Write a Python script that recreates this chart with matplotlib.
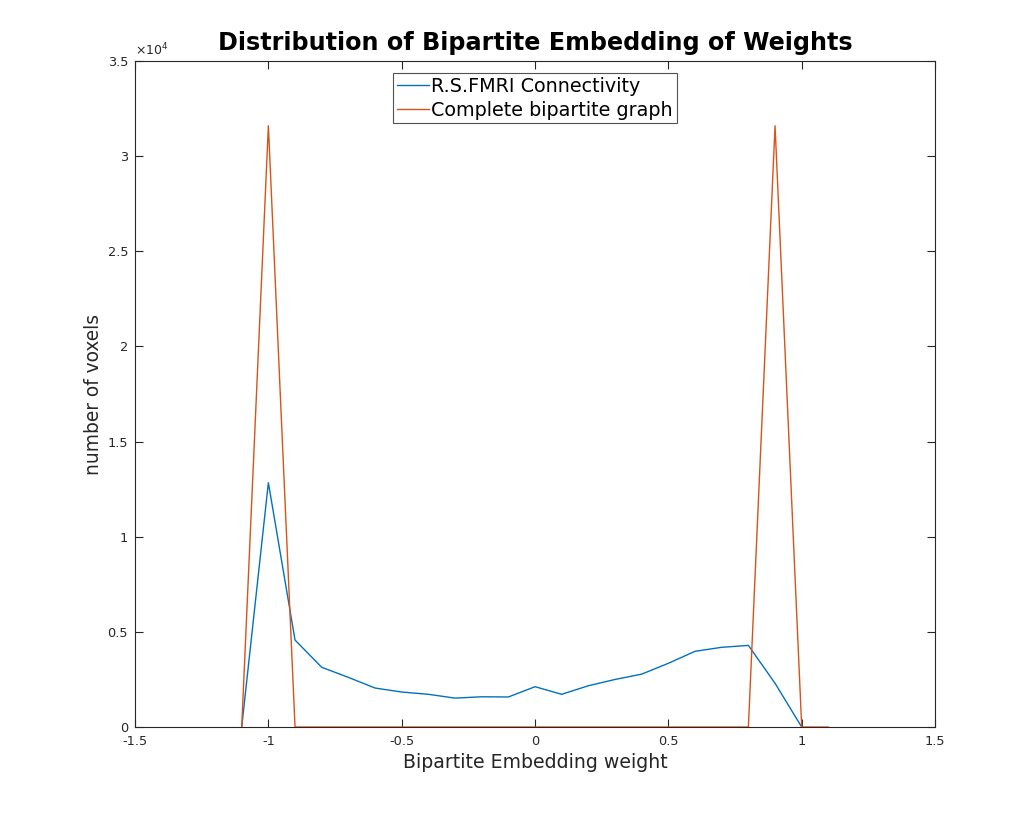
import matplotlib
matplotlib.use("Agg")
import matplotlib.pyplot as plt
import numpy as np

blue_x = [-1.1, -1.0, -0.9, -0.8, -0.7, -0.6, -0.5, -0.4, -0.3, -0.2, -0.1, 0.0,
          0.1, 0.2, 0.3, 0.4, 0.5, 0.6, 0.7, 0.8, 0.9, 1.0]
blue_y = [0, 12840, 4570, 3140, 2610, 2050, 1840, 1720, 1520, 1590, 1580, 2120,
          1720, 2170, 2500, 2780, 3350, 3980, 4190, 4290, 2300, 0]
orange_x = [-1.1, -1.0, -0.9, -0.8, -0.7, -0.6, -0.5, -0.4, -0.3, -0.2, -0.1, 0.0,
            0.1, 0.2, 0.3, 0.4, 0.5, 0.6, 0.7, 0.8, 0.9, 1.0, 1.1]
orange_y = [0, 31600, 0, 0, 0, 0, 0, 0, 0, 0, 0, 0,
            0, 0, 0, 0, 0, 0, 0, 0, 31600, 0, 0]
xticks = [-1.5, -1, -0.5, 0, 0.5, 1, 1.5]
xticklabels = ["-1.5", "-1", "-0.5", "0", "0.5", "1", "1.5"]
yticks = [0, 5000, 10000, 15000, 20000, 25000, 30000, 35000]
yticklabels = ["0", "0.5", "1", "1.5", "2", "2.5", "3", "3.5"]

fig = plt.figure(figsize=(10.34, 8.18), dpi=100)
ax = fig.add_axes([0.1306, 0.1112, 0.9043 - 0.1306, 0.9254 - 0.1112])
ax.plot(blue_x, blue_y, color="#0072BD", lw=1.0, label="R.S.FMRI Connectivity")
ax.plot(orange_x, orange_y, color="#D95319", lw=1.0, label="Complete bipartite graph")
ax.set_xlim(-1.5, 1.5)
ax.set_ylim(0, 35000)
ax.set_xticks(xticks)
ax.set_xticklabels(xticklabels)
ax.set_yticks(yticks)
ax.set_yticklabels(yticklabels)
ax.tick_params(direction="in", top=True, right=True, labelsize=9.3, colors="#262626",
               length=6, width=0.8)
ax.tick_params(axis="x", pad=6)
ax.tick_params(axis="y", pad=5)
for s in ax.spines.values():
    s.set_linewidth(0.8)
    s.set_color("#262626")
ax.text(0.0, 1.004, r"$\times10^{4}$", transform=ax.transAxes, fontsize=9,
        color="#262626", ha="left", va="bottom")
ax.set_xlabel("Bipartite Embedding weight", fontsize=13.6, color="#262626", labelpad=3)
ax.set_ylabel("number of voxels", fontsize=13.4, color="#262626", labelpad=3.5)
ax.set_title("Distribution of Bipartite Embedding of Weights", fontsize=17.2,
             fontweight="bold", pad=8)
leg = ax.legend(loc="upper center", bbox_to_anchor=(0.5, 0.982), fontsize=13.8,
                frameon=True, fancybox=False, edgecolor="#262626",
                handlelength=1.65, handletextpad=0.12, borderpad=0.2,
                labelspacing=0.25, borderaxespad=0.0)
leg.get_frame().set_linewidth(0.8)
fig.savefig("out.png", dpi=100, facecolor="white")
